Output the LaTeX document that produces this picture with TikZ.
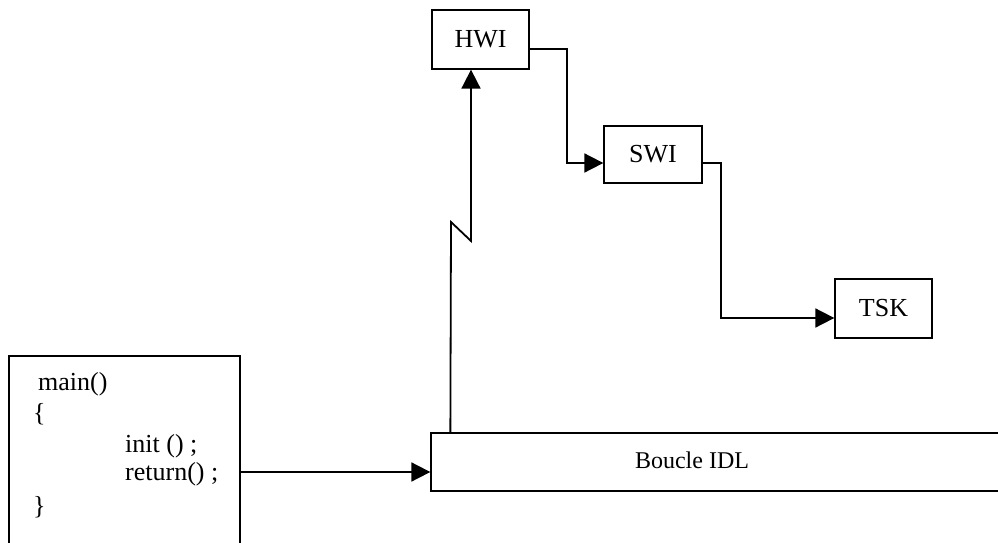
\documentclass[tikz,border=0pt]{standalone}
\usepackage{fontspec}
\setmainfont{Liberation Serif}
\usetikzlibrary{arrows.meta}
\begin{document}
\begin{tikzpicture}[x=1pt,y=-1pt,
  box/.style={draw, line width=1.3pt, rectangle, inner sep=0pt, font=\fontsize{26}{30}\selectfont},
  conn/.style={line width=1.8pt},
  arr/.style={conn, -{Triangle[length=19pt,width=19pt]}},
  code/.style={anchor=base west, inner sep=0pt, font=\fontsize{26}{30}\selectfont}]
\useasboundingbox (0,0) rectangle (998,543);
% boxes
\node[box, minimum width=97pt, minimum height=59pt] (hwi) at (480.5,39.5) {HWI};
\node[box, minimum width=98pt, minimum height=57pt] (swi) at (653,154.5) {SWI};
\node[box, minimum width=97pt, minimum height=59pt] (tsk) at (883.5,308.5) {TSK};
\node[box, minimum width=590pt, minimum height=58pt] (boucle) at (726,462) {};
\node[inner sep=0pt, font=\fontsize{24}{28}\selectfont] (bl) at (692,460) {Boucle IDL};
\node[box, minimum width=231pt, minimum height=214pt] (mainbox) at (124.5,463) {};
% code text
\node[code] (l1) at (38,390) {main()};
\node[code] (l2) at (33,421) {\{};
\node[code] (l3) at (125,452) {init () ;};
\node[code] (l4) at (125,480) {return() ;};
\node[code] (l5) at (33,514) {\}};
% connectors
\coordinate (z1) at (451,222);
\coordinate (z2) at (471,241);
\draw[arr] ([xshift=20pt]boucle.north west) -- (z1) -- (z2) -- (z2 |- hwi.south);
\coordinate (h1) at (567,49);
\draw[arr] (hwi.east |- h1) -- (h1) |- ([yshift=-8.5pt]swi.west);
\coordinate (s1) at (721,163);
\draw[arr] (swi.east |- s1) -- (s1) |- ([yshift=-9.5pt]tsk.west);
\coordinate (m1) at (0,472);
\draw[arr] (mainbox.east |- m1) -- (boucle.west |- m1);
\end{tikzpicture}
\end{document}
